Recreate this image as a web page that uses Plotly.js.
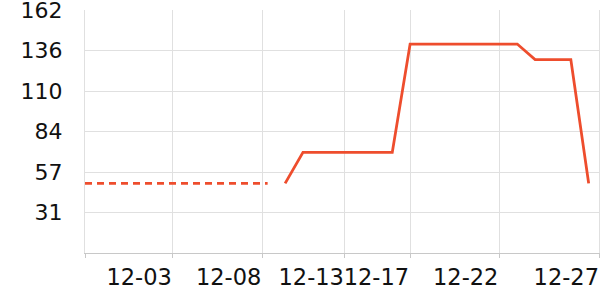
<!DOCTYPE html>
<html>
<head>
<meta charset="utf-8">
<script src="https://cdn.plot.ly/plotly-3.0.1.min.js"></script>
<style>
  html, body { margin: 0; padding: 0; background: #fff; overflow: hidden; }
  #chart { position: absolute; left: 0; top: -12px; width: 604px; height: 312px; }
</style>
</head>
<body>
<div id="chart"></div>
<script>
// Dashed (earlier) segment
const dashDates = ['2023-11-28 19:03', '2023-12-09 00:30'];
const dashValues = [50, 50];

// Solid segment
const solidDates = ['2023-12-10', '2023-12-11', '2023-12-16', '2023-12-17',
                    '2023-12-23', '2023-12-24', '2023-12-26', '2023-12-27'];
const solidValues = [50, 70, 70, 140, 140, 130, 130, 50];

// X ticks
const xTickDates = ['2023-11-28 19:03', '2023-12-03 17:10', '2023-12-08 17:18',
                    '2023-12-13 08:25', '2023-12-17', '2023-12-22', '2023-12-27 15:12'];
const xTickLabels = ['', '12-03', '12-08', '12-13', '12-17', '12-22', '12-27'];

// Y ticks
const yMin = 5, yMax = 162;
const yTickLabels = ['31', '57', '84', '110', '136', '162'];
const yStep = (yMax - yMin) / 6;
const yTickVals = yTickLabels.map((_, i) => yMin + yStep * (i + 1));

const lineColor = '#ee4d2d';

const traces = [
  {
    x: dashDates, y: dashValues, type: 'scatter', mode: 'lines',
    line: { color: lineColor, width: 2.8, dash: '7px,5px' },
    hoverinfo: 'skip'
  },
  {
    x: solidDates, y: solidValues, type: 'scatter', mode: 'lines',
    line: { color: lineColor, width: 2.8 },
    hoverinfo: 'skip'
  }
];

const layout = {
  width: 604, height: 312,
  margin: { l: 85, r: 0, t: 22, b: 47, pad: 0 },
  paper_bgcolor: '#fff', plot_bgcolor: '#fff',
  showlegend: false,
  font: { family: 'DejaVu Sans, sans-serif', color: '#111' },
  xaxis: {
    type: 'date',
    range: ['2023-11-28 19:03', '2023-12-27 20:35'],
    tickmode: 'array', tickvals: xTickDates, ticktext: xTickLabels,
    ticklabelposition: 'outside left',
    tickangle: 0,
    tickfont: { size: 22.5, color: '#111' },
    showgrid: true, gridcolor: '#e0e0e0', gridwidth: 1,
    showline: true, linecolor: '#c8c8c8', linewidth: 1,
    ticks: 'outside', ticklen: 4, tickcolor: '#c8c8c8',
    ticklabelstandoff: 4,
    zeroline: false, fixedrange: true
  },
  yaxis: {
    range: [yMin, yMax],
    tickmode: 'array', tickvals: yTickVals, ticktext: yTickLabels,
    tickfont: { size: 22, color: '#111' },
    showgrid: true, gridcolor: '#e0e0e0', gridwidth: 1,
    showline: true, linecolor: '#e0e0e0', linewidth: 1,
    ticks: '', ticklabelstandoff: 17,
    zeroline: false, fixedrange: true
  }
};

Plotly.newPlot('chart', traces, layout, { staticPlot: true, displayModeBar: false });
</script>
</body>
</html>
